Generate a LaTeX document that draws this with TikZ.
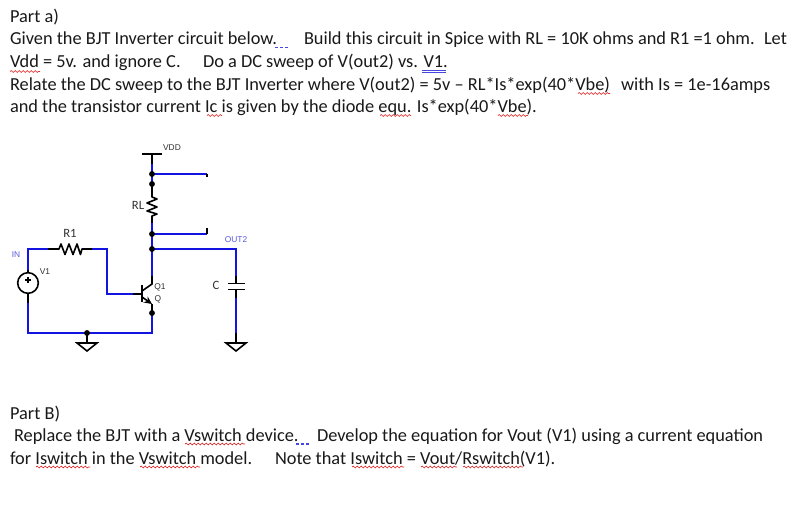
\documentclass[tikz,border=0pt]{standalone}
\usepackage{fontspec}
\setmainfont{Carlito}
\newfontfamily\lab{Liberation Sans}
\usetikzlibrary{decorations.pathmorphing,arrows.meta}
\definecolor{wireblue}{RGB}{20,20,225}
\definecolor{txt}{RGB}{25,25,25}
\definecolor{labgrey}{RGB}{50,50,50}
\definecolor{labblue}{RGB}{90,90,220}
\definecolor{squig}{RGB}{225,40,40}
\definecolor{gram}{RGB}{70,70,225}
\tikzset{
  line/.style={anchor=base west,inner sep=0pt,outer sep=0pt,text=txt,font=\fontsize{13.75pt}{15pt}\selectfont},
  wire/.style={draw=wireblue,line width=1.5pt},
  lead/.style={draw=black,line width=1.2pt},
  dotnode/.style={circle,fill=black,inner sep=0pt,minimum size=4.4pt},
  small/.style={inner sep=0pt,text=labgrey,font=\lab\fontsize{6.3pt}{7pt}\selectfont},
  smallblue/.style={small,text=labblue},
  mid/.style={inner sep=0pt,text=labgrey,font=\fontsize{9.5pt}{10pt}\selectfont},
  sq/.style={draw=squig,line width=0.5pt,decorate,decoration={snake,segment length=3pt,amplitude=0.7pt}},
  gr/.style={draw=gram,line width=0.9pt,dash pattern=on 2.2pt off 1.6pt},
  vsrc/.style={circle,draw=black,line width=1.2pt,minimum size=15.5pt,inner sep=0pt}
}
\begin{document}
\begin{tikzpicture}[x=0.75pt,y=-0.75pt]
\useasboundingbox (0,0) rectangle (806,509);
\fill[white] (0,0) rectangle (806,509);
% text
\node[line] (t1) at (10,22.5) {Part a)};
\node[line] (t2) at (10,44.5) {Given the BJT Inverter circuit below.};
\node[line] (t2b) at (304,44.5) {Build this circuit in Spice with RL = 10K ohms and R1 =1 ohm.};
\node[line] (t2c) at (764,44.5) {Let};
\node[line] (t3) at (10,67.5) {Vdd = 5v. and ignore C.};
\node[line] (t3b) at (203,67.5) {Do a DC sweep of V(out2) vs. V1.};
\node[line] (t4) at (10,90.5) {Relate the DC sweep to the BJT Inverter where V(out2) = 5v – RL*Is*exp(40*Vbe)};
\node[line] (t4b) at (621,90.5) {with Is = 1e-16amps};
\node[line] (t5) at (10,113) {and the transistor current Ic is given by the diode equ. Is*exp(40*Vbe).};
\node[line] (t6) at (10,419.5) {Part B)};
\node[line] (t7) at (14,441.5) {Replace the BJT with a Vswitch device.};
\node[line] (t7b) at (317,441.5) {Develop the equation for Vout (V1) using a current equation};
\node[line] (t8) at (10,464.5) {for Iswitch in the Vswitch model.};
\node[line] (t8b) at (275,464.5) {Note that Iswitch = Vout/Rswitch(V1).};
% proofing marks
\draw[sq] (10,71.5) -- (40,71.5);
\draw[sq] (207,115.5) -- (222,115.5);
\draw[sq] (380,115.5) -- (411,115.5);
\draw[sq] (578,93.5) -- (610,93.5);
\draw[sq] (498,115.5) -- (528,115.5);
\draw[sq] (185,444) -- (245,444);
\draw[sq] (36,467) -- (90,467);
\draw[sq] (140,467) -- (200,467);
\draw[sq] (352,467) -- (404,467);
\draw[sq] (421,467) -- (457,467);
\draw[sq] (463,467) -- (523,467);
\draw[gr] (275,47.5) -- (288,47.5);
\draw[gr] (296,444) -- (309,444);
\draw[draw=gram,line width=0.6pt] (422,70) -- (446,70) (422,72) -- (446,72);
% circuit points
\coordinate (vddT) at (152,154);
\coordinate (vddB) at (152,164);
\coordinate (rlIn) at (152,195);
\coordinate (rlOut) at (152,218);
\coordinate (coll) at (152,276);
\coordinate (collE) at (152,284);
\coordinate (emit) at (152,304);
\coordinate (botR) at (152,333);
\coordinate (botL) at (28,333);
\coordinate (topL) at (28,249);
\coordinate (r1a) at (48,249);
\coordinate (r1b) at (92,249);
\coordinate (bendT) at (107,249);
\coordinate (bendB) at (107,294);
\coordinate (baseW) at (133,294);
\coordinate (baseB) at (142,294);
\coordinate (stub1) at (207,174);
\coordinate (stub2) at (207,234);
\coordinate (capW) at (236,276);
\coordinate (capP1) at (236,283.5);
\coordinate (capP2) at (236,289.5);
\coordinate (capL) at (236,298);
\coordinate (capG) at (236,343);
\coordinate (gndMid) at (87,343);
\coordinate (n1) at (152,174);
\coordinate (n2) at (152,184);
\coordinate (n3) at (152,234);
\coordinate (n4) at (152,249);
\coordinate (n5) at (152,313);
\coordinate (n6) at (87,333);
\node[vsrc] (src) at (28,283) {};
% blue wires
\draw[wire] (vddB) -- (n2);
\draw[wire] (n1) -- (stub1);
\draw[wire] (152,223) -- (n4) -- (coll);
\draw[wire] (n3) -- (stub2);
\draw[wire] (n4) -| (capW);
\draw[wire] (capL) -- (236,333);
\draw[wire,line join=miter] (28,303) -- (botL) -- (botR) -- (n5);
\draw[wire,line join=miter] (28,270) -- (topL) -- (r1a);
\draw[wire,line join=miter] (r1b) -- (bendT) -- (bendB) -- (baseW);
% black leads
\draw[lead] (142,154) -- (162,154);
\draw[lead] (vddT) -- (vddB);
\draw[lead] (n2) -- (rlIn);
\draw[lead,line join=round] (rlIn) -- (152,197) -- (157,199) -- (147,203) -- (157,207) -- (147,211) -- (157,214) -- (152,216) -- (rlOut) -- (152,223);
\draw[lead,line join=round] (r1a) -- (59,249) -- (61,244) -- (65,254.5) -- (69,244) -- (73,254.5) -- (77,244) -- (80.5,254.5) -- (82,249) -- (r1b);
\draw[lead] (stub1) -- (207,177);
\draw[lead] (stub2) -- (207,228);
\draw[lead] (coll) -- (collE) -- (142,291);
\draw[lead] (142,285.5) -- (142,302.5);
\draw[lead] (baseW) -- (baseB);
\draw[lead,-{Stealth[length=6pt,width=5.5pt]}] (142,297) -- (emit);
\draw[lead] (emit) -- (n5);
\draw[lead] (src.north) -- (28,270);
\draw[lead] (src.south) -- (28,303);
\draw[lead] (capW) -- (capP1);
\draw[lead] (228,283.5) -- (245,283.5);
\draw[lead] (228,289.5) -- (245,289.5);
\draw[lead] (capP2) -- (capL);
\draw[lead] (236,333) -- (capG);
\draw[lead,line join=miter] (226,343) -- (246,343) -- (236,351) -- cycle;
\draw[lead] (n6) -- (gndMid);
\draw[lead,line join=miter] (77,343) -- (97,343) -- (87,351) -- cycle;
\draw[black,line width=0.9pt] (28,277) -- (28,283) (25,280) -- (31,280);
% junction dots, on top of the wires
\node[dotnode] (d1) at (n1) {};
\node[dotnode] (d2) at (n2) {};
\node[dotnode] (d3) at (n3) {};
\node[dotnode] (d4) at (n4) {};
\node[dotnode] (d5) at (n5) {};
\node[dotnode] (d6) at (n6) {};
% labels
\node[small] (lVDD) at (172,148) {VDD};
\node[smallblue] (lOUT) at (236,240) {OUT2};
\node[smallblue] (lIN) at (16,254.5) {IN};
\node[small] (lV1) at (45,271.5) {V1};
\node[small] (lQ1) at (160,287) {Q1};
\node[small] (lQ) at (158,299.5) {Q};
\node[mid] (lR1) at (70,233.5) {R1};
\node[mid] (lRL) at (138,205) {RL};
\node[mid] (lC) at (216,285) {C};
\end{tikzpicture}
\end{document}
